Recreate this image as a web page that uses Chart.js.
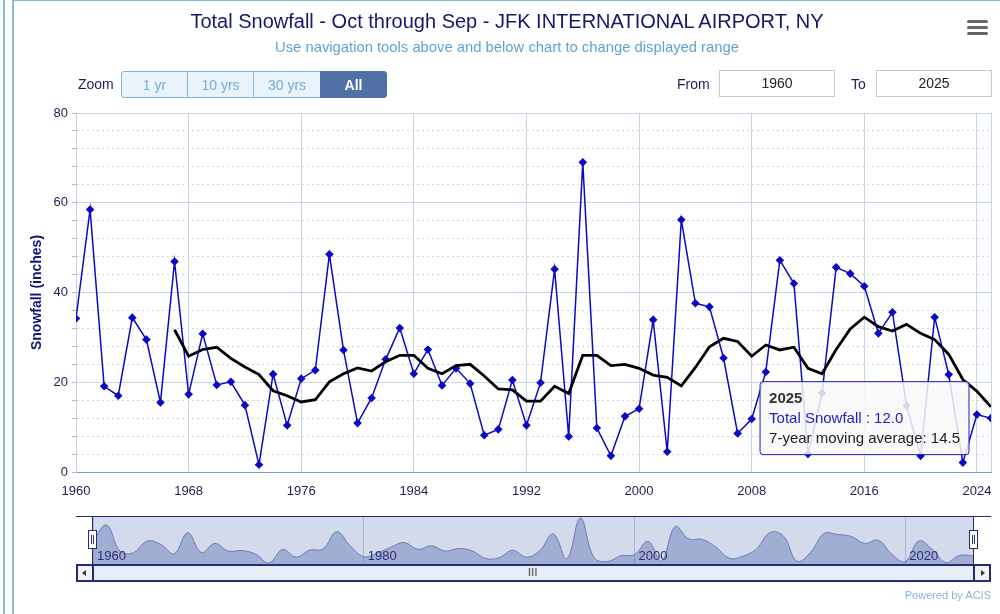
<!DOCTYPE html>
<html><head><meta charset="utf-8">
<script src="https://cdn.jsdelivr.net/npm/chart.js@4.4.1/dist/chart.umd.min.js"></script>
<style>
html,body{margin:0;padding:0;background:#fff;}
body{width:1000px;height:614px;position:relative;overflow:hidden;font-family:"Liberation Sans",Arial,Helvetica,sans-serif;}
.abs{position:absolute;}
#frameL{left:3px;top:0;width:2px;height:614px;background:#8ab6de;}
#frameBox{left:12px;top:0;width:990px;height:620px;border-left:2px solid #8ab6de;border-top:1px solid #8ab6de;box-sizing:border-box;}
#c{position:absolute;left:0;top:0;}
#title{left:12px;width:990px;top:11px;text-align:center;font-size:20px;line-height:20px;color:#16166e;white-space:nowrap;}
#subtitle{left:12px;width:990px;top:40px;text-align:center;font-size:14.8px;line-height:15px;color:#5fa3d3;white-space:nowrap;}
.lbl{font-size:14px;color:#1c1c5c;line-height:27px;top:71px;height:27px;}
#zoomLbl{left:78px;}
#btns{left:121px;top:71px;height:27px;display:flex;}
.btn{box-sizing:border-box;height:27px;border:1px solid #7ab8de;background:#e8f3fb;color:#75acd6;font-size:14px;display:flex;align-items:center;justify-content:center;margin-left:-1px;}
.btn.first{margin-left:0;border-radius:3px 0 0 3px;}
.btn.sel{background:#5071a6;color:#fff;font-weight:bold;border-color:#5071a6;border-radius:0 3px 3px 0;}
.box{box-sizing:border-box;top:70px;height:27px;width:116px;border:1px solid #c8c8c8;background:#fff;font-size:14px;color:#222;text-align:center;line-height:25px;}
#menu{left:967px;top:20px;width:21px;}
#menu div{height:3px;background:#666;border-radius:1.5px;margin-bottom:3px;}
#powered{right:9px;top:589px;font-size:11px;color:#88b4da;}
#navMask{left:93px;top:516px;width:880px;height:48px;background:#d2daec;}
#nav{position:absolute;left:93px;top:516px;}
#navTop{left:76px;top:516px;width:915px;height:1px;background:#2a2a6e;}
.navV{top:516px;width:1px;height:48px;background:#2a2a6e;}
.handle{box-sizing:border-box;top:530px;width:9px;height:19px;background:#fff;border:1px solid #2a2a6e;}
.handle::before,.handle::after{content:"";position:absolute;top:4px;width:1px;height:9px;background:#2a2a6e;}
.handle::before{left:2px;}
.handle::after{left:4px;}
#scroll{left:76px;top:564px;width:915px;height:18px;box-sizing:border-box;border-top:2px solid #2a2a6e;border-bottom:2px solid #2a2a6e;background:#e6eff9;}
.sbtn{box-sizing:border-box;top:564px;width:18px;height:18px;background:#f0f2f6;border:2px solid #2a2a6e;}
#grip{left:528px;top:567px;font-size:10px;color:#333;letter-spacing:0.5px;}
</style>
</head><body>
<div class="abs" id="frameL"></div>
<div class="abs" id="frameBox"></div>
<canvas id="c" width="1000" height="614"></canvas>
<div class="abs" id="title">Total Snowfall - Oct through Sep - JFK INTERNATIONAL AIRPORT, NY</div>
<div class="abs" id="subtitle">Use navigation tools above and below chart to change displayed range</div>
<div class="abs lbl" id="zoomLbl">Zoom</div>
<div class="abs" id="btns">
  <div class="btn first" style="width:67px">1 yr</div>
  <div class="btn" style="width:67px">10 yrs</div>
  <div class="btn" style="width:68px">30 yrs</div>
  <div class="btn sel" style="width:67px">All</div>
</div>
<div class="abs lbl" style="left:677px">From</div>
<div class="abs box" style="left:719px">1960</div>
<div class="abs lbl" style="left:851px">To</div>
<div class="abs box" style="left:876px">2025</div>
<div class="abs" id="menu"><div></div><div></div><div></div></div>

<div class="abs" id="navMask"></div>
<canvas id="nav" width="880" height="48"></canvas>
<div class="abs" id="navTop"></div>
<div class="abs navV" style="left:92px"></div>
<div class="abs navV" style="left:973px"></div>
<div class="abs handle" style="left:88px"></div>
<div class="abs handle" style="left:969px"></div>
<div class="abs" id="scroll"></div>
<div class="abs sbtn" style="left:76px"><svg width="14" height="14" style="position:absolute;left:0;top:0"><path d="M8 4 L4 7 L8 10 Z" fill="#333"/></svg></div>
<div class="abs sbtn" style="left:973px"><svg width="14" height="14" style="position:absolute;left:0;top:0"><path d="M6 4 L10 7 L6 10 Z" fill="#333"/></svg></div>
<div class="abs" id="grip">III</div>
<div class="abs" id="powered">Powered by ACIS</div>

<script>
// ---- data ----
const years = [1960,1961,1962,1963,1964,1965,1966,1967,1968,1969,
  1970,1971,1972,1973,1974,1975,1976,1977,1978,1979,
  1980,1981,1982,1983,1984,1985,1986,1987,1988,1989,
  1990,1991,1992,1993,1994,1995,1996,1997,1998,1999,
  2000,2001,2002,2003,2004,2005,2006,2007,2008,2009,
  2010,2011,2012,2013,2014,2015,2016,2017,2018,2019,
  2020,2021,2022,2023,2024,2025];
const snowfall = [34.2,58.5,19.1,17.0,34.4,29.5,15.5,46.9,17.3,30.8,
  19.4,20.1,14.9,1.6,21.8,10.4,20.8,22.7,48.5,27.2,
  10.9,16.5,25.1,32.1,21.9,27.3,19.3,23.1,19.7,8.2,
  9.5,20.5,10.4,19.9,45.2,7.9,69.0,9.8,3.6,12.4,
  14.1,33.9,4.5,56.2,37.6,36.8,25.4,8.6,11.8,22.3,
  47.2,42.0,4.0,17.6,45.6,44.2,41.4,30.9,35.6,14.8,
  3.6,34.5,21.7,2.1,12.8,12.0];
const movingAvg = [null,null,null,null,null,null,null,31.7,25.8,27.3,
  27.8,25.3,23.4,21.7,18.1,17.0,15.6,16.1,20.1,21.9,
  23.2,22.5,24.6,26.0,26.0,23.1,21.9,23.7,24.0,21.4,
  18.5,18.3,15.8,15.8,19.1,17.5,26.0,26.0,23.7,24.0,
  23.1,21.6,21.1,19.2,23.3,27.9,29.8,29.1,25.8,28.3,
  27.2,27.8,23.1,21.9,27.3,31.9,34.5,32.4,31.4,32.9,
  30.9,29.5,26.2,20.6,18.0,14.5];
const xTickLabels = [1960,1968,1976,1984,1992,2000,2008,2016,2024];
const xGridValues = [1960,1968,1976,1984,1992,2000,2008,2016,2024,2025];
const navTicks = [1960,1980,2000,2020];
const tooltipIndex = 65;

const FONT = '"Liberation Sans", Arial, Helvetica, sans-serif';
Chart.defaults.font.family = FONT;

Chart.Tooltip.positioners.snowPoint = function(elements){
  if (!elements.length) return false;
  const e = elements.find(x => x.datasetIndex === 0) || elements[0];
  return {x: e.element.x, y: e.element.y};
};

const chart = new Chart(document.getElementById('c'), {
  type: 'line',
  data: {
    datasets: [
      {
        label: 'Total Snowfall',
        data: years.map((y, i) => ({x: y, y: snowfall[i]})),
        borderColor: '#0a0ac4', backgroundColor: '#0a0ac4',
        borderWidth: 1.5, tension: 0,
        pointStyle: 'rectRot', pointRadius: 4.3, pointHoverRadius: 4.3,
        pointBorderWidth: 0, pointHoverBorderWidth: 0,
        order: 1
      },
      {
        label: '7-year moving average',
        data: years.map((y, i) => ({x: y, y: movingAvg[i]})),
        borderColor: '#000', backgroundColor: '#000',
        borderWidth: 2.8, tension: 0,
        pointRadius: 0, pointHoverRadius: 0, pointHitRadius: 0,
        order: 0
      }
    ]
  },
  options: {
    responsive: false,
    animation: false,
    events: [],
    layout: {padding: {left: 29, top: 113, right: 9, bottom: 112}},
    plugins: {
      legend: {display: false},
      tooltip: {
        enabled: true,
        position: 'snowPoint',
        xAlign: 'right', yAlign: 'center',
        caretSize: 0, caretPadding: 22,
        backgroundColor: 'rgba(248,248,248,0.86)',
        borderColor: '#1a1ac4', borderWidth: 1, cornerRadius: 3,
        padding: {top: 8, bottom: 7, left: 9, right: 9},
        titleFont: {size: 15, weight: 'bold', family: FONT},
        titleColor: '#333', titleMarginBottom: 2,
        bodyFont: {size: 15, family: FONT},
        bodyColor: '#222', bodySpacing: 2,
        displayColors: false,
        callbacks: {
          title: items => String(items[0].raw.x),
          label: item => item.datasetIndex === 0
            ? 'Total Snowfall : ' + item.parsed.y.toFixed(1)
            : '7-year moving average: ' + item.parsed.y.toFixed(1),
          labelTextColor: item => item.datasetIndex === 0 ? '#1f1fc0' : '#222'
        }
      }
    },
    scales: {
      x: {
        type: 'linear', min: 1960, max: 2025,
        afterBuildTicks: s => { s.ticks = xGridValues.map(v => ({value: v})); },
        afterFit: s => { s.height = 30; s.paddingLeft = 0; s.paddingRight = 0; },
        ticks: {
          autoSkip: false, maxRotation: 0, padding: 12,
          font: {size: 13}, color: '#1e1e4e',
          callback: v => xTickLabels.includes(v) ? String(v) : ''
        },
        grid: {color: '#c6d6e6', drawTicks: false},
        border: {color: '#6f9fd6', width: 1}
      },
      y: {
        min: 0, max: 80,
        afterFit: s => { s.width = 47; },
        ticks: {
          stepSize: 4, autoSkip: false, padding: 4,
          font: {size: 13}, color: '#1e1e4e',
          callback: v => v % 20 === 0 ? String(v) : ''
        },
        grid: {
          color: c => (c.tick && c.tick.value % 20 !== 0) ? '#d6d6d6' : '#c6d6e6',
          tickColor: '#b8b8b8', tickLength: 4
        },
        border: {
          color: '#c6d0da', width: 1,
          dash: c => (c.tick && c.tick.value % 20 !== 0) ? [2, 3] : []
        },
        title: {
          display: true, text: 'Snowfall (inches)', color: '#14147a',
          font: {size: 14, weight: 'bold'}, padding: 0
        }
      }
    }
  }
});

const active = [{datasetIndex: 0, index: tooltipIndex}, {datasetIndex: 1, index: tooltipIndex}];
chart.setActiveElements(active);
const el = chart.getDatasetMeta(0).data[tooltipIndex];
chart.tooltip.setActiveElements(active, {x: el.x, y: el.y});
chart.update();

// ---- navigator ----
const navLabels = {
  id: 'navLabels',
  afterDraw(c) {
    const s = c.scales.x, g = c.ctx;
    g.save();
    g.font = '13px ' + FONT;
    g.fillStyle = '#2e2e72';
    g.textBaseline = 'alphabetic';
    navTicks.forEach(v => g.fillText(String(v), s.getPixelForValue(v) + 4, 44));
    g.restore();
  }
};
new Chart(document.getElementById('nav'), {
  type: 'line',
  data: {
    datasets: [{
      data: years.map((y, i) => ({x: y, y: snowfall[i]})),
      borderColor: '#6a7bb2', borderWidth: 1,
      backgroundColor: 'rgba(80,100,170,0.37)', fill: 'origin',
      tension: 0.4, pointRadius: 0
    }]
  },
  options: {
    responsive: false, animation: false, events: [],
    layout: {padding: 0},
    plugins: {legend: {display: false}, tooltip: {enabled: false}},
    scales: {
      x: {
        type: 'linear', min: 1960, max: 2025,
        afterBuildTicks: s => { s.ticks = navTicks.map(v => ({value: v})); },
        afterFit: s => { s.height = 0; },
        ticks: {display: false},
        grid: {color: '#aab6d0', drawTicks: false},
        border: {display: false}
      },
      y: {display: false, min: 0, max: 72}
    }
  },
  plugins: [navLabels]
});
</script>
</body></html>
